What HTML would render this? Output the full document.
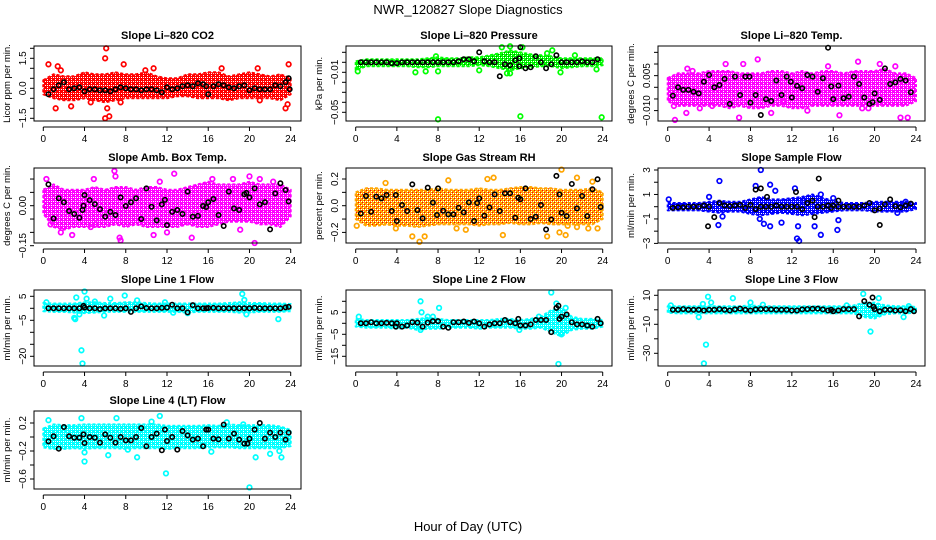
<!DOCTYPE html>
<html><head><meta charset="utf-8">
<style>
html,body{margin:0;padding:0;background:#fff;}
svg{display:block;font-family:"Liberation Sans",sans-serif;}
</style></head>
<body>
<svg id="chart" width="936" height="540" viewBox="0 0 936 540" xmlns="http://www.w3.org/2000/svg">
<defs id="defs"></defs>
<text x="468" y="14" text-anchor="middle" font-size="13">NWR_120827  Slope Diagnostics</text>
<text x="468" y="531" text-anchor="middle" font-size="13">Hour of Day (UTC)</text>
</svg>
<script>
const bandHours=[0,1,2,3,4,5,6,7,8,9,10,11,12,13,14,15,16,17,18,19,20,21,22,23,24];
const blackHours=[0.5,1,1.5,2,2.5,3,3.5,4,4.5,5,5.5,6,6.5,7,7.5,8,8.5,9,9.5,10,10.5,11,11.5,12,12.5,13,13.5,14,14.5,15,15.5,16,16.5,17,17.5,18,18.5,19,19.5,20,20.5,21,21.5,22,22.5,23,23.5];

const co2Lo=[-0.3,-0.5,-0.6,-0.6,-0.5,-0.6,-0.7,-0.6,-0.5,-0.5,-0.5,-0.5,-0.5,-0.4,-0.4,-0.5,-0.5,-0.5,-0.6,-0.5,-0.5,-0.5,-0.5,-0.6,-0.3];
const co2Hi=[0.4,0.7,0.6,0.6,0.8,0.7,0.7,0.8,0.7,0.7,0.8,0.6,0.5,0.5,0.7,0.7,0.8,0.8,0.6,0.7,0.8,0.7,0.6,0.7,0.5];
const co2Out=[[0.5,1.2],[1.2,-1.0],[1.4,1.1],[1.7,0.9],[2.7,-0.9],[6.0,1.5],[6.2,-1.0],[6.0,-1.5],[6.4,-1.4],[6.1,2.0],[7.8,1.2],[7.5,-0.7],[10.7,1.0],[17.3,1.0],[20.8,1.0],[23.8,1.2],[23.7,-0.8],[23.5,-1.0],[21.0,-0.6],[4.6,-0.7],[9.9,0.9]];
const co2Black=[-0.3,-0.05,0.15,0.3,-0.05,0.0,0.05,-0.15,-0.05,-0.05,-0.1,-0.1,-0.15,-0.05,0.05,0.0,-0.05,-0.05,-0.1,-0.05,-0.05,-0.1,-0.2,0.05,-0.05,0.0,0.1,0.15,0.1,0.25,0.2,-0.3,0.1,0.2,0.15,0.05,0.0,0.1,0.15,-0.1,0.0,-0.05,-0.05,-0.05,0.15,0.1,0.3];
const co2BlackOut=[[23.8,0.5],[23.9,-0.05],[15.8,0.1]];

const presLo=[-0.008,-0.004,-0.004,-0.004,-0.004,-0.004,-0.005,-0.005,-0.004,-0.004,-0.004,-0.004,-0.003,-0.004,-0.006,-0.008,-0.006,-0.005,-0.004,-0.004,-0.006,-0.005,-0.004,-0.004,-0.003];
const presHi=[0.001,0.003,0.003,0.003,0.003,0.003,0.003,0.004,0.005,0.004,0.004,0.005,0.005,0.007,0.009,0.012,0.010,0.008,0.007,0.006,0.004,0.004,0.004,0.004,0.004];
const presOut=[[0.2,-0.009],[5.8,-0.010],[6.8,-0.009],[8.0,-0.057],[8.0,-0.009],[7.8,0.006],[12.0,-0.008],[14.7,-0.011],[15.0,-0.011],[15.0,0.016],[14.2,0.015],[16.0,-0.054],[16.2,0.015],[19.1,0.012],[19.9,-0.010],[21.3,0.007],[23.9,-0.055],[23.4,-0.007],[18.6,0.009]];
const presBlack=[0.000,0.000,0.000,0.000,0.000,0.000,-0.001,-0.001,0.000,0.000,0.000,0.000,0.000,0.000,0.000,0.000,0.000,0.000,0.000,0.001,0.003,0.003,0.001,0.010,0.001,0.000,0.000,-0.014,-0.002,-0.003,0.002,0.015,-0.006,-0.005,0.006,0.000,-0.006,-0.002,0.007,0.000,0.000,0.000,0.000,0.001,0.000,0.000,0.003];
const presBlackOut=[[15.9,0.004],[15.9,-0.004]];

const tempLo=[-0.006,-0.008,-0.008,-0.008,-0.008,-0.008,-0.009,-0.008,-0.009,-0.009,-0.008,-0.008,-0.009,-0.009,-0.008,-0.008,-0.008,-0.008,-0.008,-0.008,-0.008,-0.008,-0.008,-0.008,-0.006];
const tempHi=[0.004,0.006,0.006,0.006,0.007,0.007,0.007,0.006,0.006,0.006,0.007,0.007,0.006,0.007,0.006,0.007,0.007,0.006,0.007,0.007,0.007,0.008,0.006,0.006,0.004];
const tempOut=[[0.7,-0.014],[1.8,-0.011],[8.7,0.012],[6.9,-0.013],[10,-0.011],[13.5,-0.010],[16.6,-0.012],[18.8,-0.009],[19.4,-0.009],[22.5,-0.013],[23.2,-0.013],[5.6,0.010],[7.3,0.010],[18.4,0.011],[20.5,0.010],[22.0,0.009],[1.9,0.008],[2.4,0.007],[15.5,0.009],[11.2,-0.006],[0.6,-0.008],[3.1,-0.009],[4.3,-0.008]];
const tempBlack=[-0.0036,0,-0.0011,-0.0011,-0.0019,-0.0026,0.0024,0.0053,0,0.0010,0.0036,-0.0071,0.0046,-0.0033,0.0046,-0.0066,-0.0033,-0.0119,-0.0051,-0.0059,0.0029,-0.0033,0.0046,-0.0044,0.0006,-0.0004,0.0053,0.0046,-0.0019,0.0039,0.0170,-0.0051,0.0007,-0.0047,-0.0040,0.0046,0.0014,-0.0044,-0.0071,-0.0026,-0.0054,0.0081,0.0014,0.0021,0.0036,0.0029,-0.0021];
const tempBlackOut=[[7.9,0.0046],[11.9,0.0024],[15.8,0.0004],[19.8,-0.0064]];

const ambLo=[-0.03,-0.08,-0.09,-0.08,-0.08,-0.08,-0.08,-0.07,-0.08,-0.07,-0.08,-0.08,-0.08,-0.08,-0.07,-0.08,-0.08,-0.07,-0.06,-0.06,-0.06,-0.07,-0.07,-0.08,-0.04];
const ambHi=[0.06,0.08,0.06,0.06,0.06,0.07,0.06,0.07,0.07,0.06,0.07,0.07,0.06,0.06,0.07,0.08,0.09,0.08,0.08,0.08,0.09,0.08,0.08,0.08,0.06];
const ambOut=[[0.3,0.10],[0.7,-0.07],[1.7,-0.10],[2.8,-0.11],[6.9,0.13],[7.0,0.11],[7.4,-0.12],[7.5,-0.13],[4.9,0.10],[12.7,0.12],[10.7,-0.11],[14.4,-0.12],[12.0,-0.10],[16.4,0.10],[19.1,-0.09],[20.5,-0.14],[21.0,0.10],[18.4,0.10],[20.0,0.11],[22.3,0.09],[11.3,0.09],[4.6,-0.08],[5.1,-0.07]];
const ambBlack=[0.080,-0.048,0.028,0.013,-0.020,-0.031,-0.045,0.040,0.021,0.006,-0.013,-0.041,-0.023,-0.035,0.031,-0.001,0.013,0.028,-0.050,0.065,-0.004,-0.055,0.005,-0.073,-0.023,-0.016,-0.031,0.053,-0.041,-0.038,-0.001,0.013,0.025,-0.035,-0.076,0.053,-0.010,-0.016,0.043,0.031,0.065,0.005,0.013,-0.089,0.046,0.084,0.059];
const ambBlackOut=[[3.8,-0.016],[3.9,0.0],[11.8,0.022],[15.8,-0.005],[19.7,0.048],[23.8,0.016]];

const rhLo=[-0.10,-0.15,-0.15,-0.14,-0.15,-0.15,-0.16,-0.15,-0.14,-0.14,-0.14,-0.14,-0.15,-0.14,-0.14,-0.13,-0.14,-0.14,-0.13,-0.14,-0.14,-0.14,-0.14,-0.14,-0.10];
const rhHi=[0.10,0.13,0.13,0.12,0.12,0.12,0.12,0.12,0.13,0.12,0.12,0.12,0.13,0.12,0.12,0.13,0.14,0.14,0.13,0.13,0.12,0.12,0.12,0.13,0.10];
const rhOut=[[0.1,-0.15],[2.9,0.17],[3.9,-0.17],[6.2,-0.27],[5.5,-0.23],[6.7,-0.23],[9.0,0.19],[9.8,-0.17],[10.7,-0.18],[12.8,0.20],[13.4,0.21],[14.3,-0.22],[18.6,-0.23],[19.8,-0.20],[20.0,0.27],[20.4,-0.22],[21.5,0.21],[23.0,0.18],[20.6,-0.15],[21.5,-0.16],[22.6,-0.17],[23.5,-0.17]];
const rhBlack=[-0.058,0.073,-0.045,0.068,0.055,0.080,-0.040,-0.115,0.005,-0.040,0.160,-0.033,-0.095,0.135,0.023,0.130,-0.038,-0.065,-0.065,-0.015,-0.050,0.025,-0.115,0.055,-0.075,-0.013,0.085,-0.040,0.093,0.093,-0.090,0.048,0.130,-0.100,-0.083,0.005,-0.178,-0.103,0.223,-0.053,-0.078,0.163,-0.020,0.073,-0.078,0.123,0.198];
const rhBlackOut=[[3.9,0.08],[7.9,-0.07],[11.8,0.02],[15.8,0.06],[19.8,0.085],[23.8,-0.01]];

const flowLo=[-0.3,-0.3,-0.3,-0.3,-0.4,-0.5,-0.4,-0.4,-0.6,-0.7,-0.6,-0.5,-0.6,-0.7,-0.6,-0.5,-0.4,-0.3,-0.3,-0.3,-0.4,-0.4,-0.4,-0.4,-0.2];
const flowHi=[0.3,0.3,0.3,0.3,0.4,0.5,0.4,0.4,0.6,0.8,0.6,0.6,0.7,0.8,1.0,0.7,0.5,0.3,0.3,0.3,0.4,0.4,0.4,0.4,0.3];
const flowOut=[[0.1,0.6],[5.0,2.1],[4.9,-1.5],[5.3,-0.8],[8.5,1.7],[8.9,-1.0],[9.0,3.0],[9.3,-1.4],[9.9,1.8],[9.9,-1.6],[10.4,1.3],[11.0,-1.3],[12.5,-2.6],[12.6,-1.6],[12.7,-2.8],[12.3,1.5],[14.2,-1.6],[14.8,-2.3],[14.8,1.0],[16.4,-1.9],[16.5,-1.1],[13.2,0.5],[16.0,0.7],[4.0,0.8],[23.0,0.4],[22.2,-0.5]];
const flowBlack=[-0.1,-0.05,-0.05,0.0,0.0,0.0,0.1,0.0,-0.85,0.3,0.1,0.05,0.1,0.15,-0.1,0.15,-0.2,0.0,0.0,0.0,0.1,0.0,0.0,0.0,0.0,-0.2,0.3,0.5,0.0,0.0,0.1,0.1,0.0,0.0,0.0,0.0,0.0,0.1,0.3,-0.3,-0.15,0.2,0.6,0.05,-0.05,0.1,0.25];
const flowBlackOut=[[3.9,-1.6],[8.5,1.4],[9.0,1.5],[9.6,0.8],[12.4,1.2],[14.6,2.3],[14.2,-0.85],[20.5,-1.5],[16.5,0.5],[15.8,-0.1]];

const l1Lo=[-1.2,-1.5,-1.5,-1.8,-2,-1.8,-1.5,-1.5,-1.5,-1.5,-1.5,-1.5,-1.5,-1.5,-1.8,-1.5,-1.5,-1.5,-1.5,-1.8,-1.8,-1.5,-1.5,-1.5,-1.2];
const l1Hi=[2.2,2,2,2,2.5,2.5,2.2,2.2,2.5,2.5,2.2,2,2,2,2,2,2,2,2.2,2.5,2.2,2.2,2,2,1.8];
const l1Out=[[3.2,4.5],[3.0,-4.0],[3.1,-4.5],[3.5,-2.5],[4.0,7],[4.2,4],[3.7,-17.5],[3.8,-23],[6.5,4.0],[5.0,2.8],[5.9,-3.0],[7.9,5.3],[9.1,3.3],[11.8,2.5],[19.3,6],[19.5,3.5],[19.7,-2.5],[22.8,-4.5],[14.0,-2],[12.6,-1.8],[0.3,2.5]];
const l1Black=[0,0,0,0,0,0,0,0.3,0,0,-0.3,0,0,0,-0.2,0,-1.5,0,0.8,0.1,0,0,0.2,0.3,1.5,0,0,-1.7,1.3,0,0,0.1,0.2,0,0,0,0,0,0,0,0.2,0,0,0,0,0,0.4];
const l1BlackOut=[[3.9,1.0],[15.8,0],[23.8,0.6]];

const l2Lo=[-1.5,-2,-2,-2,-2.5,-2,-3,-2.5,-2.5,-2,-2,-2,-2.5,-2,-2,-2,-2.5,-2.5,-2,-4,-6,-3,-2.5,-2.5,-1.5];
const l2Hi=[2,1.5,1.5,1.5,1.5,1.5,2,2.5,2,1.5,1.5,1.5,1.5,1.5,2,2,1.5,2,3,6,7,3,2,2,1.5];
const l2Out=[[0.3,3],[6.3,10],[6.4,5],[6.3,-3],[8.1,7],[15.9,-3],[17.8,3],[19.0,14],[19.5,9],[20.0,-5],[20.4,7],[19.7,-18.5],[7.0,3],[7.5,3]];
const l2Black=[0,0,0.5,0,0,0.2,0,0,-1.5,-1,0.5,0.3,-1.5,0.3,1,1,-1.5,-2,0.5,0.5,0.8,0.2,0.8,0,-1.5,-0.5,0,0,1.5,0.5,0,-1,-1,-0.5,1.5,1.5,1.5,-4,7,3,4,0.5,-0.5,-0.5,-1,-1.5,2];
const l2BlackOut=[[19.7,8],[19.8,2],[15.8,2],[23.8,0],[3.9,-1.5]];

const l3Lo=[-2,-2.5,-2.5,-2.5,-2.5,-2.5,-2.5,-2.5,-2.5,-2.5,-2.5,-2.5,-2.5,-2.5,-2.5,-2.5,-2.5,-2.5,-2.5,-5,-6,-3,-2.5,-2.5,-2];
const l3Hi=[2.5,2.5,2.5,2.5,2.5,2.5,2.5,2.5,3,2.5,2.5,2.5,2.5,2.5,2.5,2.5,2.5,2.5,3,5,5,3,2.5,2.5,2];
const l3Out=[[0.3,3],[3.0,-5],[3.4,4],[3.9,9],[4.2,5],[3.7,-24],[3.5,-37],[6.3,8],[8.0,5],[9.2,3.5],[17.3,3],[18.9,11],[19.6,-15],[20.4,8],[20.0,-3],[22.8,-5],[23.3,2.5]];
const l3Black=[0,0,0.5,0,0,0,-0.5,0,0,0.5,0,-0.5,0.3,0.8,0,-0.5,0.3,0.5,0.5,0.3,0,0,0,-0.5,-0.5,0.3,0.5,0.7,0.8,0.3,-0.5,-1,-0.5,0.5,0.5,0.5,-4.5,6,3.5,0.5,-1,0,0,-0.5,-0.3,-1,0.5];
const l3BlackOut=[[19.8,8.5],[19.9,2],[15.8,0],[23.8,-1]];

const l4Lo=[-0.15,-0.17,-0.17,-0.16,-0.17,-0.16,-0.16,-0.16,-0.17,-0.16,-0.16,-0.16,-0.17,-0.16,-0.16,-0.16,-0.15,-0.15,-0.15,-0.16,-0.16,-0.16,-0.16,-0.16,-0.13];
const l4Hi=[0.12,0.18,0.17,0.17,0.18,0.18,0.18,0.18,0.18,0.18,0.18,0.18,0.16,0.16,0.16,0.16,0.17,0.16,0.18,0.17,0.17,0.17,0.17,0.15,0.10];
const l4Out=[[0.5,0.24],[3.7,0.27],[4.0,-0.22],[4.0,-0.35],[6.3,-0.26],[7.1,0.27],[8.2,-0.18],[9.1,-0.29],[11.3,0.3],[11.9,-0.52],[16.3,-0.21],[17.8,0.21],[20.0,-0.72],[20.6,-0.29],[22.0,-0.24],[23.1,-0.29],[22.9,-0.2],[10.5,0.22],[19.4,0.18]];
const l4Black=[-0.062,0.010,-0.167,0.143,0.010,-0.010,-0.010,-0.086,0,-0.010,-0.081,0.038,-0.010,-0.081,0,-0.048,-0.048,0,0.129,-0.133,0,0.048,-0.190,-0.057,0,-0.181,0.086,0.024,-0.038,-0.024,-0.133,0.105,-0.024,-0.033,0.176,-0.024,0.048,-0.038,-0.095,-0.024,0.105,0.200,-0.024,0.062,0,0.062,-0.038];
const l4BlackOut=[[3.9,0.038],[11.8,0.105],[15.8,0.105],[19.8,-0.095],[23.8,0.062]];

const colLeft=[34,346,658], colRight=[301,612,925], colX0=[43.3,355.7,667.7], colX24=[290.7,602.7,916];
const rowTop=[46,168,290,411], rowBottom=[121,243,366,489];

const panels=[
 {name:'co2',title:'Slope Li–820 CO2',ylab:'Licor ppm per min.',c:0,r:0,ref:[0,88.3,1.5,58.3],ticks:[-1.5,-1,-0.5,0,0.5,1,1.5,2],labs:[[-1.5,'-1.5'],[0,'0.0'],[1.5,'1.5']],color:'#ff0000',c2:'#ff0000',lo:co2Lo,hi:co2Hi,out:co2Out,blk:co2Black,bout:co2BlackOut},
 {name:'pressure',title:'Slope Li–820 Pressure',ylab:'kPa per min.',c:1,r:0,ref:[0,62.3,-0.05,112.3],ticks:[0.01,0,-0.01,-0.02,-0.03,-0.04,-0.05],labs:[[-0.01,'-0.01'],[-0.05,'-0.05']],color:'#00ff00',c2:'#008800',lo:presLo,hi:presHi,out:presOut,blk:presBlack,bout:presBlackOut},
 {name:'li820-temp',title:'Slope Li–820 Temp.',ylab:'degrees C per min.',c:2,r:0,ref:[0,87.3,-0.01,110.6],ticks:[0.015,0.01,0.005,0,-0.005,-0.01],labs:[[-0.01,'-0.010'],[0.005,'0.005']],color:'#ff00ff',c2:'#ff00ff',lo:tempLo,hi:tempHi,out:tempOut,blk:tempBlack,bout:tempBlackOut},
 {name:'amb-box-temp',title:'Slope Amb. Box Temp.',ylab:'degrees C per min.',c:0,r:1,ref:[0,205.7,-0.15,245.7],ticks:[0.1,0.05,0,-0.05,-0.1,-0.15],labs:[[0,'0.00'],[-0.15,'-0.15']],color:'#ff00ff',c2:'#ff00ff',lo:ambLo,hi:ambHi,out:ambOut,blk:ambBlack,bout:ambBlackOut},
 {name:'gas-stream-rh',title:'Slope Gas Stream RH',ylab:'percent per min.',c:1,r:1,ref:[0,205.7,0.2,179],ticks:[0.2,0.1,0,-0.1,-0.2],labs:[[0.2,'0.2'],[0,'0.0'],[-0.2,'-0.2']],color:'#ffa500',c2:'#ff0000',lo:rhLo,hi:rhHi,out:rhOut,blk:rhBlack,bout:rhBlackOut},
 {name:'sample-flow',title:'Slope Sample Flow',ylab:'ml/min per min.',c:2,r:1,ref:[0,206.7,3,170],ticks:[3,2,1,0,-1,-2,-3],labs:[[3,'3'],[1,'1'],[-1,'-1'],[-3,'-3']],color:'#0000ff',c2:'#0000ff',lo:flowLo,hi:flowHi,out:flowOut,blk:flowBlack,bout:flowBlackOut},
 {name:'line1-flow',title:'Slope Line 1 Flow',ylab:'ml/min per min.',c:0,r:2,ref:[0,308.3,-20,356.3],ticks:[5,0,-5,-10,-15,-20],labs:[[5,'5'],[-5,'-5'],[-20,'-20']],color:'#00ffff',c2:'#00ffff',lo:l1Lo,hi:l1Hi,out:l1Out,blk:l1Black,bout:l1BlackOut},
 {name:'line2-flow',title:'Slope Line 2 Flow',ylab:'ml/min per min.',c:1,r:2,ref:[0,323.3,-15,356.3],ticks:[10,5,0,-5,-10,-15],labs:[[5,'5'],[-5,'-5'],[-15,'-15']],color:'#00ffff',c2:'#00ffff',lo:l2Lo,hi:l2Hi,out:l2Out,blk:l2Black,bout:l2BlackOut},
 {name:'line3-flow',title:'Slope Line 3 Flow',ylab:'ml/min per min.',c:2,r:2,ref:[0,309.8,-30,353.3],ticks:[10,0,-10,-20,-30],labs:[[10,'10'],[-10,'-10'],[-30,'-30']],color:'#00ffff',c2:'#00ffff',lo:l3Lo,hi:l3Hi,out:l3Out,blk:l3Black,bout:l3BlackOut},
 {name:'line4-flow',title:'Slope Line 4 (LT) Flow',ylab:'ml/min per min.',c:0,r:3,ref:[0,437,-0.6,479],ticks:[0.2,0,-0.2,-0.4,-0.6],labs:[[0.2,'0.2'],[-0.2,'-0.2'],[-0.6,'-0.6']],color:'#00ffff',c2:'#00ffff',lo:l4Lo,hi:l4Hi,out:l4Out,blk:l4Black,bout:l4BlackOut}
];
const xTickVals=[0,4,8,12,16,20,24];

const NS='http://www.w3.org/2000/svg';
const svg=document.getElementById('chart');
const defs=document.getElementById('defs');
function mk(tag,attrs,parent){const e=document.createElementNS(NS,tag);for(const k in attrs)e.setAttribute(k,attrs[k]);(parent||svg).appendChild(e);return e;}

panels.forEach((p,pi)=>{
  // speckled ring-like texture pattern
  const pat=mk('pattern',{id:'pat'+pi,width:4,height:4,patternUnits:'userSpaceOnUse'},defs);
  mk('rect',{width:4,height:4,fill:p.color},pat);
  mk('rect',{x:0,y:0,width:1,height:1,fill:p.c2},pat);
  mk('rect',{x:2,y:2,width:1,height:1,fill:p.c2},pat);
  mk('rect',{x:1,y:1,width:1,height:1,fill:'#ffffff'},pat);
  mk('rect',{x:3,y:3,width:1,height:1,fill:'#ffffff'},pat);
  mk('rect',{x:3,y:1,width:1,height:1,fill:'#ffffff'},pat);

  const L=colLeft[p.c],R=colRight[p.c],T=rowTop[p.r],B=rowBottom[p.r];
  const xs=h=>colX0[p.c]+(colX24[p.c]-colX0[p.c])*h/24;
  const k=(p.ref[3]-p.ref[1])/(p.ref[2]-p.ref[0]);
  const ys=v=>p.ref[1]+(v-p.ref[0])*k;
  const g=mk('g',{});
  
  
  const cp=mk('clipPath',{id:'clip'+pi},g);
  mk('rect',{x:L,y:T,width:R-L,height:B-T},cp);
  let pts=[];
  bandHours.forEach((h,i)=>pts.push(xs(h).toFixed(1)+','+ys(p.hi[i]).toFixed(1)));
  for(let i=bandHours.length-1;i>=0;i--)pts.push(xs(bandHours[i]).toFixed(1)+','+ys(p.lo[i]).toFixed(1));
  const band=mk('polygon',{points:pts.join(' '),fill:'url(#pat'+pi+')',stroke:p.color,'stroke-width':2,'stroke-dasharray':'3 2','stroke-linejoin':'round','clip-path':'url(#clip'+pi+')'},g);
  
  
  p.out.forEach(o=>{
    const c=mk('circle',{cx:xs(o[0]),cy:ys(o[1]),r:2.3,fill:'none',stroke:p.color,'stroke-width':1.7},g);
    
    
  });
  p.blk.forEach((v,i)=>{
    const c=mk('circle',{cx:xs(blackHours[i]),cy:ys(v),r:2.2,fill:'none',stroke:'#000','stroke-width':1.6},g);
    
    
  });
  p.bout.forEach(o=>{
    const c=mk('circle',{cx:xs(o[0]),cy:ys(o[1]),r:2.2,fill:'none',stroke:'#000','stroke-width':1.6},g);
    
    
  });
  const box=mk('rect',{x:L,y:T,width:R-L,height:B-T,fill:'none',stroke:'#000','stroke-width':1},g);
  
  
  const t=mk('text',{x:(L+R)/2,y:T-7,'text-anchor':'middle','font-size':11,'font-weight':'bold'},g);
  t.textContent=p.title;
  
  
  const ay=B+6;
  const xl=mk('line',{x1:xs(0),x2:xs(24),y1:ay,y2:ay,stroke:'#000','stroke-width':1},g);
  
  
  xTickVals.forEach(v=>{
    mk('line',{x1:xs(v),x2:xs(v),y1:ay,y2:ay+4,stroke:'#000','stroke-width':1},g);
    const tl=mk('text',{x:xs(v),y:ay+15,'text-anchor':'middle','font-size':10},g);
    tl.textContent=v;
    
    
  });
  p.ticks.forEach(v=>{
    mk('line',{x1:L-4,x2:L,y1:ys(v),y2:ys(v),stroke:'#000','stroke-width':1},g);
  });
  p.labs.forEach(l=>{
    const yy=ys(l[0]);
    const tl=mk('text',{x:L-8,y:yy,'text-anchor':'middle','font-size':10,transform:'rotate(-90 '+(L-8)+' '+yy+')'},g);
    tl.textContent=l[1].replace('-','\u2212');
    
    
  });
  const cy=(T+B)/2, tx=L-24;
  const yt=mk('text',{x:tx,y:cy,'text-anchor':'middle','font-size':9.5,transform:'rotate(-90 '+tx+' '+cy+')'},g);
  yt.textContent=p.ylab;
  
  
});
</script>
</body></html>
